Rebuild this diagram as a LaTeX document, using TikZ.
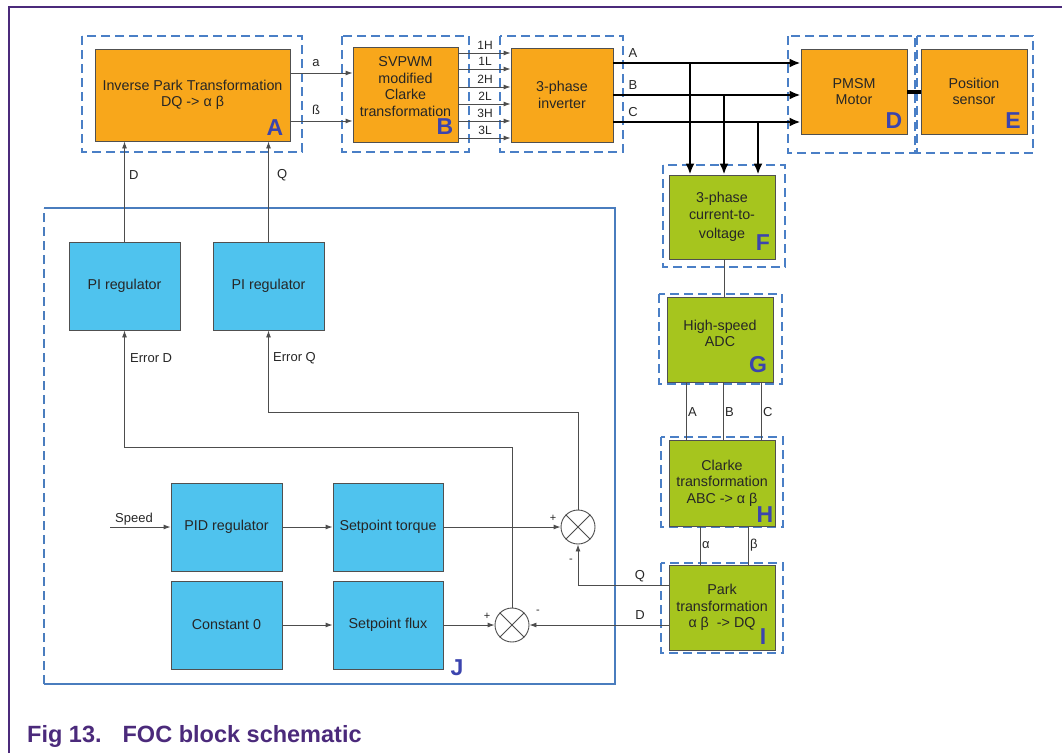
\documentclass[tikz,border=0pt]{standalone}
\usepackage{fontspec}
\setmainfont{Liberation Sans}
\usetikzlibrary{arrows.meta}
\definecolor{obox}{HTML}{F8A71B}
\definecolor{gbox}{HTML}{A6C51E}
\definecolor{bbox}{HTML}{4FC3EE}
\definecolor{dblue}{HTML}{4A7FC6}
\definecolor{jblue}{HTML}{4A7DBE}
\definecolor{lblue}{HTML}{3B44AE}
\definecolor{fpurple}{HTML}{4B2A7B}
\definecolor{bord}{HTML}{505050}
\definecolor{wirec}{HTML}{4D4D4D}
\definecolor{txt}{HTML}{262626}
\tikzset{
 box/.style={draw=bord, line width=0.9pt, inner sep=2pt, align=center, text=txt, font=\fontsize{14.3}{16.5}\selectfont},
 orangebox/.style={box, fill=obox},
 greenbox/.style={box, fill=gbox},
 bluebox/.style={box, fill=bbox},
 boxtext/.style={align=center, text=txt, font=\fontsize{14.3}{16.5}\selectfont, inner sep=0pt},
 dbox/.style={draw=dblue, line width=1.8pt, dash pattern=on 9pt off 5pt},
 letter/.style={text=lblue, font=\fontsize{23}{23}\selectfont\bfseries, inner sep=0pt},
 wire/.style={draw=wirec, line width=0.9pt},
 warrow/.style={wire, -{Latex[length=7pt,width=5pt]}},
 thickw/.style={draw=black, line width=2.8pt},
 tarrow/.style={thickw, -{Latex[length=11pt,width=9pt]}},
 lab/.style={text=txt, font=\fontsize{13}{13}\selectfont, inner sep=1pt},
 small/.style={text=txt, font=\fontsize{12}{12}\selectfont, inner sep=1pt},
 sign/.style={text=txt, font=\fontsize{11}{11}\selectfont, inner sep=0pt},
 sumnode/.style={draw=wirec, circle, line width=0.9pt, minimum size=34pt, inner sep=0pt, fill=white},
}
\begin{document}
\begin{tikzpicture}[x=1pt,y=-1pt]
\useasboundingbox (0,0) rectangle (1062,753);
% frame
\draw[fpurple, line width=1.4pt] (9,753) -- (9,7) -- (1062,7);

% dashed containers
\draw[dbox] (82,36) rectangle (302,152);
\draw[dbox] (342,36) rectangle (469,152);
\draw[dbox] (500,36) rectangle (623,152);
\draw[dbox] (788,36) rectangle (915,153);
\draw[dbox] (917,36) rectangle (1033,153);
\draw[dbox] (663,165) rectangle (785,267);
\draw[dbox] (659,294) rectangle (782,384);
\draw[dbox] (661,437) rectangle (783,527);
\draw[dbox] (661,563) rectangle (783,653);

% J container
\draw[jblue, line width=1.3pt] (44,208) -- (615,208) -- (615,684) -- (44,684);
\draw[jblue, line width=1.3pt, dash pattern=on 9pt off 5pt] (44,684) -- (44,208);

% boxes
\node[orangebox, minimum width=195pt, minimum height=92pt] (A) at (192.5,95) {Inverse Park Transformation\\DQ -> α β};
\node[orangebox, minimum width=105pt, minimum height=95pt] (B) at (405.5,94.5) {};
\node[boxtext] (Bt) at ([yshift=8pt]B.center) {SVPWM\\modified\\Clarke\\transformation};
\node[orangebox, minimum width=102pt, minimum height=94pt] (Inv) at (562,95) {3-phase\\inverter};
\node[orangebox, minimum width=106pt, minimum height=85pt] (PMSM) at (854,91.5) {PMSM\\Motor};
\node[orangebox, minimum width=106pt, minimum height=85pt] (Pos) at (974,91.5) {Position\\sensor};
\node[greenbox, minimum width=106pt, minimum height=84pt] (F) at (722,217) {3-phase\\current-to-\\[3pt]voltage};
\node[greenbox, minimum width=106pt, minimum height=85pt] (G) at (720,339.5) {};
\node[boxtext] (Gt) at ([yshift=6pt]G.center) {High-speed\\ADC};
\node[greenbox, minimum width=106pt, minimum height=86pt] (H) at (722,483) {Clarke\\transformation\\ABC -> α β};
\node[greenbox, minimum width=106pt, minimum height=85pt] (I) at (722,607.5) {Park\\transformation\\α β\hspace{8pt}-> DQ};
\node[bluebox, minimum width=111pt, minimum height=88pt] (PId) at (124.5,286) {PI regulator};
\node[bluebox, minimum width=111pt, minimum height=88pt] (PIq) at (268.5,286) {PI regulator};
\node[bluebox, minimum width=111pt, minimum height=88pt] (PIDr) at (226.5,527) {PID regulator};
\node[bluebox, minimum width=110pt, minimum height=88pt] (Torque) at (388,527) {Setpoint torque};
\node[bluebox, minimum width=111pt, minimum height=88pt] (Const) at (226.5,625) {Constant 0};
\node[bluebox, minimum width=110pt, minimum height=88pt] (Flux) at (388,625) {Setpoint flux};

% summing junctions
\node[sumnode] (Qsum) at (578,527) {};
\draw[wire] (Qsum.45) -- (Qsum.225) (Qsum.135) -- (Qsum.-45);
\node[sumnode] (Dsum) at (512,625) {};
\draw[wire] (Dsum.45) -- (Dsum.225) (Dsum.135) -- (Dsum.-45);

% letters
\node[letter] (LA) at (275,128) {A};
\node[letter] (LB) at (445,127) {B};
\node[letter] (LD) at (894,121) {D};
\node[letter] (LE) at (1013,121) {E};
\node[letter] (LF) at (763,243) {F};
\node[letter] (LG) at (758,365) {G};
\node[letter] (LH) at (765,515) {H};
\node[letter] (LI) at (763,637) {I};
\node[letter] (LJ) at (457,668) {J};

% A -> B
\coordinate (aA) at (290,73);
\coordinate (bA) at (290,121);
\draw[warrow] (aA) -- (aA -| B.west);
\draw[warrow] (bA) -- (bA -| B.west);
\node[lab] (la) at (316,63) {a};
\node[lab] (lb) at (316,110) {ß};

% B -> inverter
\foreach \yy/\ll [count=\i] in {53/1H,69/1L,87/2H,104/2L,121/3H,138/3L} {
  \coordinate (s\i) at (458,\yy);
  \draw[warrow] (s\i) -- (s\i -| Inv.west);
  \node[small] (l\i) at (485,\yy-8) {\ll};
}

% inverter -> motor
\foreach \yy/\ll/\n in {63/A/pa,95/B/pb,122/C/pc} {
  \coordinate (\n) at (613,\yy);
  \draw[tarrow] (\n) -- (\n -| PMSM.west);
  \node[lab] (lab\n) at (633,\yy-10) {\ll};
}
\coordinate (ta) at (690,63);
\coordinate (tb) at (724,95);
\coordinate (tc) at (758,122);
\draw[tarrow] (ta) -- (ta |- F.north);
\draw[tarrow] (tb) -- (tb |- F.north);
\draw[tarrow] (tc) -- (tc |- F.north);
\draw[thickw, line width=4pt] (PMSM.east) -- (Pos.west);

% F -> G
\coordinate (fg) at (724,259);
\draw[wire] (fg) -- (fg |- G.north);

% G -> H
\foreach \xx/\ll/\n in {686/A/ga,723/B/gb,761/C/gc} {
  \coordinate (\n) at (\xx,382);
  \draw[wire] (\n) -- (\n |- H.north);
  \node[lab, anchor=west] (lab\n) at (\xx+1,412) {\ll};
}

% H -> I
\foreach \xx/\ll/\n in {700/α/ha,748/β/hb} {
  \coordinate (\n) at (\xx,526);
  \draw[wire] (\n) -- (\n |- I.north);
  \node[lab, anchor=west] (lab\n) at (\xx+1,545) {\ll};
}

% I -> summing junctions
\coordinate (iq) at (669,585);
\draw[warrow] (iq) -| (Qsum.south);
\node[lab] (lq) at (640,576) {Q};
\draw[warrow] (I.west |- Dsum) -- (Dsum.east);
\node[lab] (ld) at (640,615) {D};

% setpoints
\coordinate (sp) at (110,527);
\draw[warrow] (sp) -- (PIDr.west);
\node[lab] (lsp) at (134,519) {Speed};
\draw[warrow] (PIDr.east) -- (Torque.west);
\draw[warrow] (Const.east) -- (Flux.west);
\draw[warrow] (Torque.east) -- (Qsum.west);
\draw[warrow] (Flux.east) -- (Dsum.west);
\node[sign] (p1) at (553,518) {+};
\node[sign] (m1) at (571,561) {-};
\node[sign] (p2) at (487,616) {+};
\node[sign] (m2) at (538,612) {-};

% errors -> PI
\draw[warrow] (Qsum.north) |- ([yshift=-82pt]PIq.south) -- (PIq.south);
\draw[warrow] (Dsum.north) |- ([yshift=-117pt]PId.south) -- (PId.south);
\node[lab, anchor=west] (led) at (129,358) {Error D};
\node[lab, anchor=west] (leq) at (272,358) {Error Q};

% PI -> A
\draw[warrow] (PId.north) -- (PId.north |- A.south);
\draw[warrow] (PIq.north) -- (PIq.north |- A.south);
\node[lab, anchor=west] (lD) at (128,175) {D};
\node[lab, anchor=west] (lQ) at (276,175) {Q};

% caption
\node[anchor=base west, text=fpurple, font=\fontsize{23.5}{23.5}\selectfont\bfseries, inner sep=0pt] (cap) at (27,742) {Fig 13.\hspace{21pt}FOC block schematic};
\end{tikzpicture}
\end{document}
